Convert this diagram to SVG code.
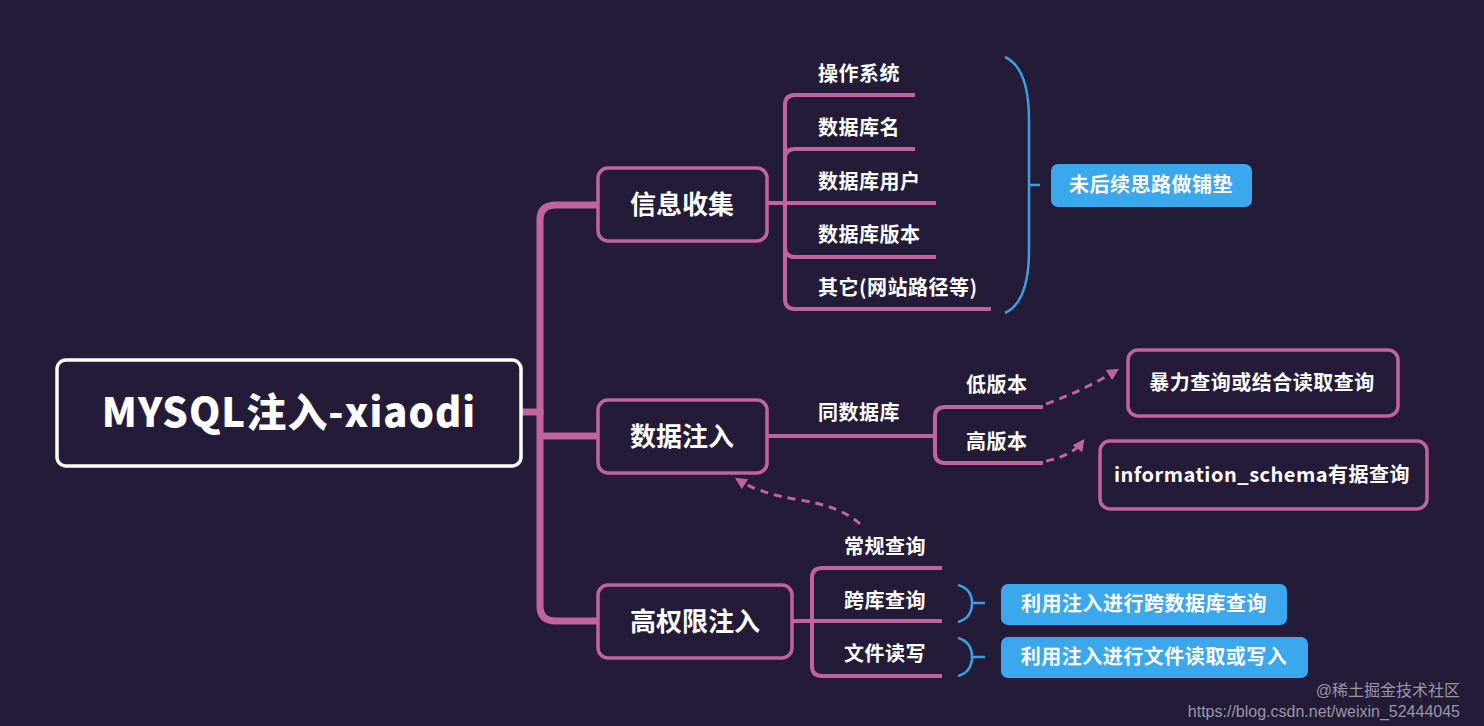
<svg xmlns="http://www.w3.org/2000/svg" width="1484" height="726" viewBox="0 0 1484 726">
<defs>
<style>
.bg{fill:#231b37}
.box{fill:#231b37;stroke:#c2639b;stroke-width:3.5}
.root{fill:#231b37;stroke:#ffffff;stroke-width:3.5}
.blue{fill:#3ba7ec}
.ln{fill:none;stroke:#c2639b;stroke-width:4;stroke-linecap:butt}
.trunk{fill:none;stroke:#c2639b;stroke-width:7}
.dash{fill:none;stroke:#c2639b;stroke-width:3;stroke-dasharray:8 6}
.brace{fill:none;stroke:#3b9fe0;stroke-width:2.5}
text{font-family:"Noto Sans CJK SC","Noto Sans",sans-serif;font-weight:bold;fill:#ffffff}
.t1{font-size:40px;font-weight:900;letter-spacing:1px}
.t2{font-size:26px}
.t3{font-size:20px;letter-spacing:0.5px}
.wm{font-family:"Liberation Sans","Noto Sans CJK SC",sans-serif;font-weight:normal;fill:#9a97a6;font-size:16px}
</style>
<marker id="ah" viewBox="0 0 10 10" refX="8" refY="5" markerWidth="4" markerHeight="4" orient="auto">
<path d="M0,0 L10,5 L0,10 Z" fill="#c2639b"/>
</marker>
</defs>
<rect class="bg" x="0" y="0" width="1484" height="726"/>

<g id="connectors">
<path class="trunk" d="M521,412 H540"/>
<path class="trunk" d="M540,415 V220 Q540,205 556,205 H597"/>
<path class="trunk" d="M540,410 V606 Q540,621 556,621 H597"/>
<path class="trunk" d="M540,436 H597"/>
<path class="ln" d="M768,203 H936"/>
<path class="ln" d="M785,203 V105 Q785,95 795,95 H915"/>
<path class="ln" d="M785,203 V159 Q785,149 795,149 H915"/>
<path class="ln" d="M785,203 V247 Q785,257 795,257 H936"/>
<path class="ln" d="M785,203 V299 Q785,309 795,309 H991"/>
<path class="ln" d="M767,436 H935"/>
<path class="ln" d="M935,436 V417 Q935,407 945,407 H1043"/>
<path class="ln" d="M935,436 V453 Q935,463 945,463 H1043"/>
<path class="ln" d="M792,621 H942"/>
<path class="ln" d="M812,621 V578 Q812,568 822,568 H942"/>
<path class="ln" d="M812,621 V666 Q812,676 822,676 H942"/>
<path class="dash" d="M1046,404 Q1085,390 1117,370" marker-end="url(#ah)"/>
<path class="dash" d="M1046,461 Q1072,456 1083,441" marker-end="url(#ah)"/>
<path class="dash" d="M860,524 Q840,506 800,500 Q760,494 737,479" marker-end="url(#ah)"/>
<path class="brace" d="M1005,57 Q1029,68 1029,120 V250 Q1029,302 1005,313"/>
<path class="brace" d="M1029,185 H1040"/>
<path class="brace" d="M958,585 Q972,589 972,603 Q972,618 958,622"/>
<path class="brace" d="M972,603 H985"/>
<path class="brace" d="M958,638 Q972,642 972,657 Q972,672 958,676"/>
<path class="brace" d="M972,657 H985"/>
</g>

<g id="root">
<rect class="root" x="57" y="360" width="464" height="106" rx="9"/>
<text class="t1" x="289" y="427" text-anchor="middle">MYSQL注入-xiaodi</text>
</g>

<g id="info">
<rect class="box" x="598" y="168" width="169" height="73" rx="10"/>
<text class="t2" x="682" y="214" text-anchor="middle">信息收集</text>
</g>
<g id="info-os"><text class="t3" x="818" y="81">操作系统</text></g>
<g id="info-dbname"><text class="t3" x="818" y="135">数据库名</text></g>
<g id="info-dbuser"><text class="t3" x="818" y="189">数据库用户</text></g>
<g id="info-dbver"><text class="t3" x="818" y="242">数据库版本</text></g>
<g id="info-other"><text class="t3" x="818" y="295">其它(网站路径等)</text></g>
<g id="note-info">
<rect class="blue" x="1051" y="164" width="201" height="43" rx="7"/>
<text class="t3" x="1151" y="192" text-anchor="middle">未后续思路做铺垫</text>
</g>

<g id="inject">
<rect class="box" x="598" y="400" width="169" height="73" rx="10"/>
<text class="t2" x="682" y="446" text-anchor="middle">数据注入</text>
</g>
<g id="same-db"><text class="t3" x="818" y="420">同数据库</text></g>
<g id="low-ver"><text class="t3" x="966" y="392">低版本</text></g>
<g id="high-ver"><text class="t3" x="966" y="449">高版本</text></g>
<g id="brute">
<rect class="box" x="1128" y="350" width="270" height="66" rx="10"/>
<text class="t3" x="1262" y="390" text-anchor="middle">暴力查询或结合读取查询</text>
</g>
<g id="infoschema">
<rect class="box" x="1100" y="441" width="327" height="68" rx="10"/>
<text class="t3" x="1262" y="482" text-anchor="middle">information_schema有据查询</text>
</g>

<g id="priv">
<rect class="box" x="598" y="585" width="194" height="73" rx="10"/>
<text class="t2" x="695" y="631" text-anchor="middle">高权限注入</text>
</g>
<g id="normal-q"><text class="t3" x="844" y="554">常规查询</text></g>
<g id="cross-q"><text class="t3" x="844" y="608">跨库查询</text></g>
<g id="file-rw"><text class="t3" x="844" y="661">文件读写</text></g>
<g id="note-cross">
<rect class="blue" x="1001" y="584" width="286" height="41" rx="7"/>
<text class="t3" x="1144" y="611" text-anchor="middle">利用注入进行跨数据库查询</text>
</g>
<g id="note-file">
<rect class="blue" x="1001" y="637" width="307" height="41" rx="7"/>
<text class="t3" x="1154" y="664" text-anchor="middle">利用注入进行文件读取或写入</text>
</g>

<text class="wm" x="1460" y="696" text-anchor="end">@稀土掘金技术社区</text>
<text class="wm" x="1460" y="717" text-anchor="end">https://blog.csdn.net/weixin_52444045</text>
</svg>
